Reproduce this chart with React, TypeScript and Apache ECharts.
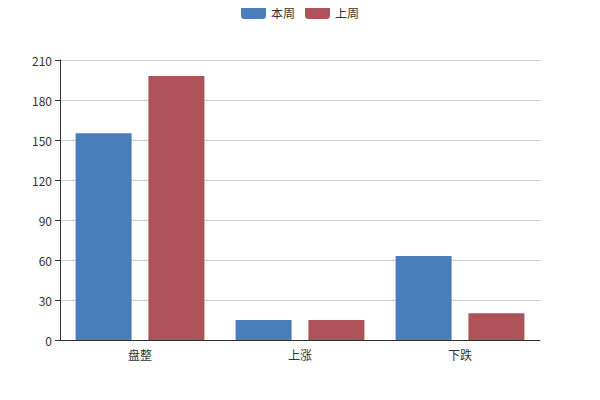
import React, { useEffect, useRef } from "react";
import * as echarts from "echarts";

const categories = ["盘整", "上涨", "下跌"];
const thisWeek = [155, 15, 63];
const lastWeek = [198, 15, 20];
const seriesNames = ["本周", "上周"];

export default function App() {
  const ref = useRef<HTMLDivElement>(null);
  useEffect(() => {
    const chart = echarts.init(ref.current!, null, { renderer: "svg" });
    const font = "'Noto Sans CJK SC', 'Noto Sans', sans-serif";
    chart.setOption({
      animation: false,
      textStyle: { fontFamily: font },
      legend: {
        top: 0,
        left: "center",
        itemWidth: 25,
        itemHeight: 14,
        itemGap: 10,
        textStyle: { fontFamily: font, fontSize: 12, color: "#333" },
        data: seriesNames,
      },
      grid: { left: 60, right: 60, top: 60, bottom: 60 },
      xAxis: {
        type: "category",
        data: categories,
        axisLine: { lineStyle: { color: "#333" } },
        axisTick: { lineStyle: { color: "#333" } },
        axisLabel: { color: "#333", fontFamily: font, fontSize: 12 },
      },
      yAxis: {
        type: "value",
        min: 0,
        max: 210,
        interval: 30,
        axisLine: { show: true, lineStyle: { color: "#333" } },
        axisTick: { show: true, lineStyle: { color: "#333" } },
        axisLabel: { color: "#333", fontFamily: font, fontSize: 12 },
        splitLine: { lineStyle: { color: "#ccc" } },
      },
      series: [
        {
          name: seriesNames[0],
          type: "bar",
          data: thisWeek,
          barWidth: 56,
          barGap: "30%",
          itemStyle: { color: "#4a7ebb" },
        },
        {
          name: seriesNames[1],
          type: "bar",
          data: lastWeek,
          barWidth: 56,
          barGap: "30%",
          itemStyle: { color: "#ae5458" },
        },
      ],
    });
    return () => chart.dispose();
  }, []);
  return <div ref={ref} style={{ width: 600, height: 400, margin: -8 }} />;
}
